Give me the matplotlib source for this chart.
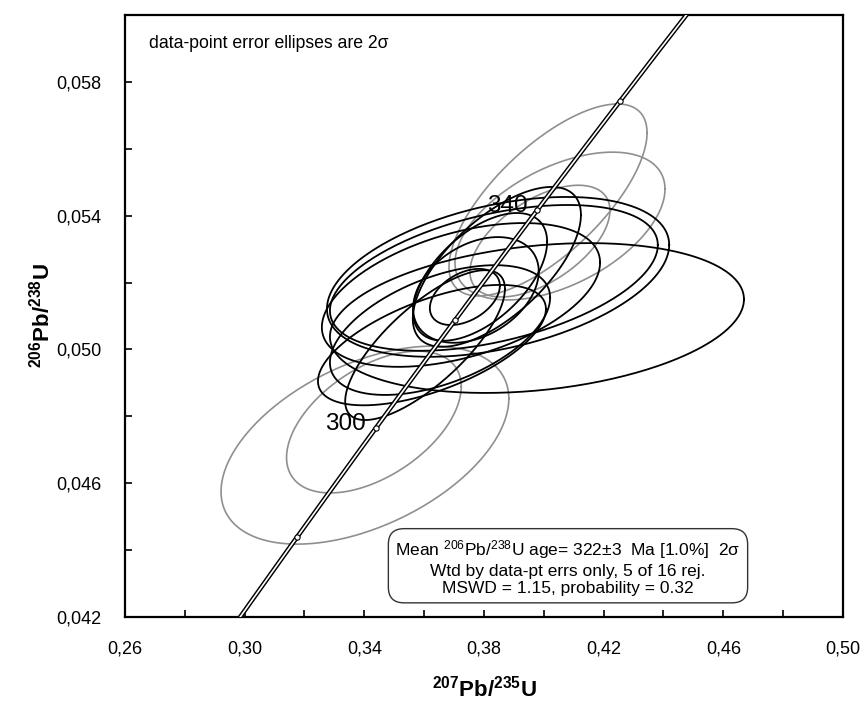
import numpy as np
import matplotlib
matplotlib.use("Agg")
import matplotlib.pyplot as plt

plt.rcParams["font.family"] = ["Liberation Sans", "DejaVu Sans"]
plt.rcParams["mathtext.fontset"] = "custom"
plt.rcParams["mathtext.rm"] = "Liberation Sans"
plt.rcParams["mathtext.bf"] = "Liberation Sans:bold"
plt.rcParams["mathtext.default"] = "regular"

# error ellipses: 207Pb/235U, 206Pb/238U, 2-sigma errors, error correlation
x_ratio = [0.3402, 0.3432, 0.4014, 0.4054, 0.3987,
           0.3977, 0.3847, 0.3833, 0.3723, 0.3843, 0.3787,
           0.3773, 0.3736, 0.3603, 0.3626, 0.3653]
y_ratio = [0.04714, 0.04783, 0.05447, 0.05369, 0.05324,
           0.05094, 0.05217, 0.05214, 0.05163, 0.05247, 0.05217,
           0.05178, 0.05157, 0.05013, 0.05013, 0.05058]
x_err = [0.0481, 0.0292, 0.0331, 0.0351, 0.0234,
         0.0692, 0.0572, 0.0548, 0.0465, 0.0281, 0.0224,
         0.0210, 0.0117, 0.0267, 0.0381, 0.0368]
y_err = [0.00296, 0.00212, 0.00287, 0.00221, 0.00167,
         0.00224, 0.00239, 0.00218, 0.00215, 0.00239, 0.00191,
         0.00158, 0.00084, 0.00224, 0.00180, 0.00194]
rho = [0.47, 0.50, 0.70, 0.50, 0.55,
       0.25, 0.40, 0.45, 0.45, 0.65, 0.55,
       0.35, 0.40, 0.75, 0.60, 0.50]
rejected = [True, True, True, True, True,
            False, False, False, False, False, False,
            False, False, False, False, False]

# concordia age marks (Ma)
marker_ages = [280, 300, 320, 340, 360]
label_ages = [300, 340]

xticks_major = [0.26, 0.30, 0.34, 0.38, 0.42, 0.46, 0.50]
yticks_major = [0.042, 0.046, 0.050, 0.054, 0.058]

info_lines = [
    "Mean $^{206}$Pb/$^{238}$U age= 322\u00b13  Ma [1.0%]  2\u03c3",
    "Wtd by data-pt errs only, 5 of 16 rej.",
    "MSWD = 1.15, probability = 0.32",
]

# decay constants (1/yr)
L238 = 1.55125e-10
L235 = 9.8485e-10


def concordia(t_ma):
    t = np.asarray(t_ma) * 1e6
    return np.exp(L235 * t) - 1, np.exp(L238 * t) - 1


fig = plt.figure(figsize=(8.68, 7.08), dpi=100)
ax = fig.add_axes([0.144, 0.1285, 0.8272, 0.8503])

# ellipses, rejected ones (grey) below the accepted ones
th = np.linspace(0, 2 * np.pi, 300)
for i in range(len(x_ratio)):
    ex = x_ratio[i] + x_err[i] * np.cos(th)
    ey = y_ratio[i] + y_err[i] * (rho[i] * np.cos(th) + np.sqrt(1 - rho[i] ** 2) * np.sin(th))
    if rejected[i]:
        ax.plot(ex, ey, color="#8f8f8f", lw=1.2, zorder=2)
    else:
        ax.plot(ex, ey, color="black", lw=1.3, zorder=3)

# concordia band
ages = np.linspace(250, 400, 400)
cx, cy = concordia(ages)
ax.plot(cx, cy, color="black", lw=3.3, zorder=4, solid_capstyle="butt")
ax.plot(cx, cy, color="white", lw=1.2, zorder=5, solid_capstyle="butt")
mx, my = concordia(marker_ages)
ax.plot(mx, my, "o", ms=3.8, mfc="white", mec="black", mew=0.8, zorder=6)
for a in label_ages:
    lx, ly = concordia(a)
    ax.annotate(str(a), (lx, ly), xytext=(-7, -1), textcoords="offset points",
                ha="right", va="baseline", fontsize=17.5, zorder=7)

ax.set_xlim(0.26, 0.50)
ax.set_ylim(0.042, 0.060)
ax.set_xticks(xticks_major)
ax.set_yticks(yticks_major)
ax.set_xticks(np.arange(0.28, 0.50, 0.04), minor=True)
ax.set_yticks(np.arange(0.044, 0.060, 0.004), minor=True)
ax.set_xticklabels([f"{v:.2f}".replace(".", ",") for v in xticks_major])
ax.set_yticklabels([f"{v:.3f}".replace(".", ",") for v in yticks_major])
ax.tick_params(which="both", direction="in", length=5, width=1.2, labelsize=13, pad=17,
               top=False, right=False)
for s in ax.spines.values():
    s.set_linewidth(1.6)

ax.set_xlabel(r"$\mathbf{^{207}Pb/^{235}U}$", fontsize=16, labelpad=13)
ax.set_ylabel(r"$\mathbf{^{206}Pb/^{238}U}$", fontsize=16, labelpad=1)

ax.text(0.033, 0.952, "data-point error ellipses are 2\u03c3", transform=ax.transAxes,
        fontsize=12.7, ha="left", va="center")

ax.text(0.617, 0.083, "\n".join(info_lines), transform=ax.transAxes, fontsize=12.5,
        ha="center", va="center", linespacing=1.2, zorder=8,
        bbox=dict(boxstyle="round,pad=0.4,rounding_size=0.9", fc="white", ec="#333333", lw=1.0))

fig.savefig("out.png", dpi=100, facecolor="white")
